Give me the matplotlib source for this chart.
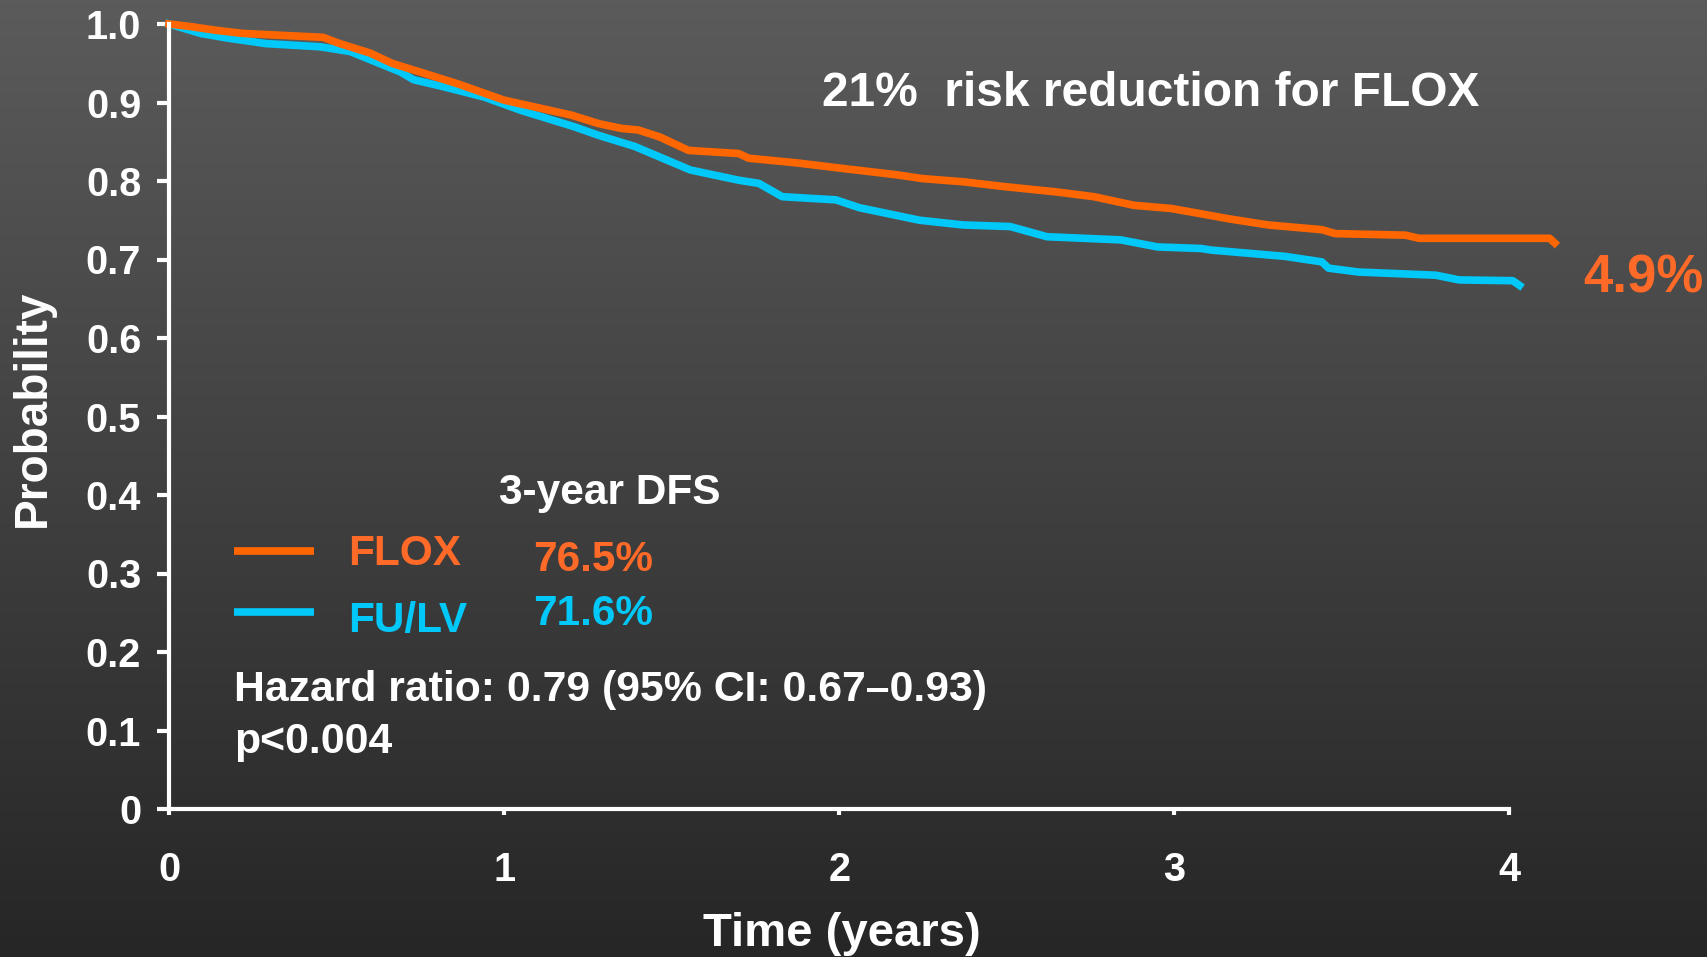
import numpy as np
import matplotlib
matplotlib.use("Agg")
import matplotlib.pyplot as plt
from matplotlib.colors import LinearSegmentedColormap

plt.rcParams['font.family'] = ['Liberation Sans', 'DejaVu Sans']
plt.rcParams['font.weight'] = 'bold'

# Kaplan-Meier readings (years, probability)
flox_t = [0, 0.06, 0.14, 0.22, 0.46, 0.51, 0.60, 0.665, 0.71, 0.86, 1.0, 1.2, 1.283,
          1.35, 1.40, 1.465, 1.55, 1.7, 1.73, 1.875, 2.01, 2.17, 2.25, 2.37, 2.49,
          2.65, 2.76, 2.88, 2.99, 3.07, 3.16, 3.28, 3.44, 3.48, 3.69, 3.73, 4.12, 4.135]
flox_s = [1.0, 0.997, 0.992, 0.988, 0.983, 0.975, 0.963, 0.95, 0.944, 0.924, 0.903,
          0.884, 0.873, 0.867, 0.865, 0.856, 0.839, 0.835, 0.829, 0.823, 0.816, 0.808,
          0.803, 0.799, 0.793, 0.786, 0.78, 0.769, 0.765, 0.759, 0.752, 0.744, 0.738,
          0.733, 0.731, 0.727, 0.727, 0.721]

fulv_t = [0, 0.095, 0.175, 0.29, 0.45, 0.54, 0.69, 0.73, 0.82, 0.94, 1.05, 1.21, 1.283,
          1.39, 1.556, 1.7, 1.76, 1.83, 1.99, 2.06, 2.24, 2.37, 2.51, 2.62, 2.84, 2.95,
          3.08, 3.11, 3.33, 3.44, 3.46, 3.55, 3.78, 3.85, 4.01, 4.03]
fulv_s = [1.0, 0.988, 0.982, 0.975, 0.971, 0.965, 0.939, 0.929, 0.92, 0.907, 0.89,
          0.869, 0.858, 0.844, 0.814, 0.801, 0.797, 0.78, 0.776, 0.766, 0.75, 0.744,
          0.742, 0.729, 0.725, 0.716, 0.714, 0.712, 0.704, 0.697, 0.689, 0.684, 0.68,
          0.674, 0.673, 0.667]

groups = ["FLOX", "FU/LV"]
dfs_3yr = ["76.5%", "71.6%"]
y_ticks = [0, 0.1, 0.2, 0.3, 0.4, 0.5, 0.6, 0.7, 0.8, 0.9, 1.0]
y_labels = ["0", "0.1", "0.2", "0.3", "0.4", "0.5", "0.6", "0.7", "0.8", "0.9", "1.0"]
x_ticks = [0, 1, 2, 3, 4]

orange = "#FF6600"
orange_txt = "#FF6A28"
cyan = "#00C8F8"

fig = plt.figure(figsize=(17.07, 9.57), dpi=100)

# gradient background
bg = fig.add_axes([0, 0, 1, 1], zorder=-1)
grad = np.linspace(0, 1, 256).reshape(-1, 1)
cmap = LinearSegmentedColormap.from_list("bg", ["#5b5b5b", "#262626"])
bg.imshow(grad, aspect="auto", cmap=cmap, extent=[0, 1, 0, 1])
bg.axis("off")

ax = fig.add_axes([169 / 1707, 148 / 957, 1508 / 1707, 785 / 957])
ax.patch.set_alpha(0)

ax.plot(fulv_t, fulv_s, color=cyan, lw=5.5, clip_on=False)
ax.plot(flox_t, flox_s, color=orange, lw=5.5, clip_on=False)

ax.set_xlim(0, 4.5)
ax.set_ylim(0, 1.0)

for s in ["top", "right"]:
    ax.spines[s].set_visible(False)
ax.spines["left"].set_bounds(0, 1.0)
ax.spines["bottom"].set_bounds(0, 4)
for s in ["left", "bottom"]:
    ax.spines[s].set_color("white")
    ax.spines[s].set_linewidth(3)

ax.set_yticks(y_ticks)
ax.set_yticklabels(y_labels)
ax.set_xticks(x_ticks)
ax.tick_params(axis="y", colors="white", length=9, width=3, pad=11, labelsize=28.5)
ax.tick_params(axis="x", colors="white", length=4, width=3, pad=26, labelsize=28.5)
for lab in ax.get_xticklabels() + ax.get_yticklabels():
    lab.set_fontweight("bold")

fig.text(33 / 1707, 1 - 408 / 957, "Probability", rotation=90, ha="center", va="center",
         color="white", fontsize=33, fontweight="bold")
fig.text(842 / 1707, 1 - 934 / 957, "Time (years)", ha="center", va="center",
         color="white", fontsize=34, fontweight="bold")

ax.text(2.93, 0.912, "21%  risk reduction for FLOX", ha="center", va="center",
        color="white", fontsize=34.5, fontweight="bold")
ax.text(4.22, 0.676, "4.9%", ha="left", va="center", color=orange_txt,
        fontsize=38, fontweight="bold", clip_on=False)

ax.text(0.984, 0.403, "3-year DFS", ha="left", va="center", color="white",
        fontsize=30.5, fontweight="bold")
ax.plot([0.194, 0.432], [0.329, 0.329], color=orange, lw=5.5, solid_capstyle="butt")
ax.plot([0.194, 0.432], [0.251, 0.251], color=cyan, lw=5.5, solid_capstyle="butt")
ax.text(0.534, 0.325, groups[0], ha="left", va="center", color=orange_txt,
        fontsize=30.5, fontweight="bold")
ax.text(0.534, 0.240, groups[1], ha="left", va="center", color=cyan,
        fontsize=30.5, fontweight="bold")
ax.text(1.086, 0.317, dfs_3yr[0], ha="left", va="center", color=orange_txt,
        fontsize=30.5, fontweight="bold")
ax.text(1.086, 0.249, dfs_3yr[1], ha="left", va="center", color=cyan,
        fontsize=30.5, fontweight="bold")

ax.text(0.194, 0.151, "Hazard ratio: 0.79 (95% CI: 0.67\u20130.93)", ha="left",
        va="center", color="white", fontsize=30.8, fontweight="bold")
ax.text(0.194, 0.085, "p<0.004", ha="left", va="center", color="white",
        fontsize=30.8, fontweight="bold")

fig.savefig("out.png", dpi=100)
